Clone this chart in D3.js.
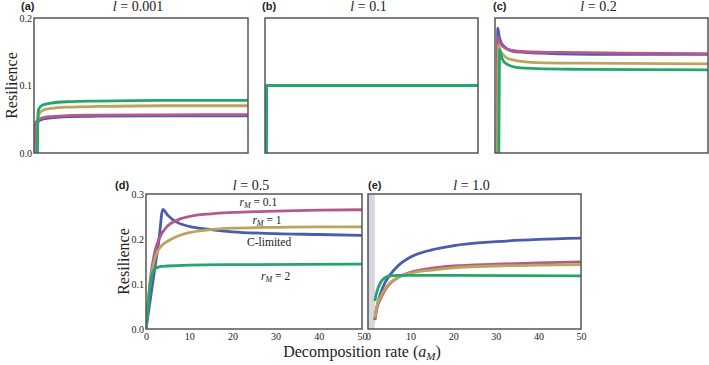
<!DOCTYPE html>
<html>
<head>
<meta charset="utf-8">
<script src="https://cdn.jsdelivr.net/npm/d3@7"></script>
<style>
    body { margin: 0; background: #fff; }
    svg text { font-family: "Liberation Serif", "DejaVu Serif", serif; fill: #222; }
    .letter { font-family: "Liberation Sans", Arial, sans-serif; font-weight: bold; font-size: 11px; }
</style>
</head>
<body>
<div id="chart"></div>
<script>
'use strict';

// Values: [decomposition rate aM, resilience]
var xTicks = [0, 10, 20, 30, 40, 50];
var yTicksTop = [0.0, 0.1, 0.2];
var yTicksBottom = [0.0, 0.1, 0.2, 0.3];

// (a) l = 0.001
var blueA  = [[0, 0], [0.3, 0.04], [0.6, 0.045], [1, 0.047], [2, 0.05], [4, 0.052], [8, 0.054], [15, 0.0545], [30, 0.055], [50, 0.055]];
var pinkA  = [[0.1, 0], [0.3, 0.042], [0.6, 0.047], [1, 0.049], [2, 0.052], [4, 0.054], [8, 0.0555], [15, 0.056], [30, 0.0565], [50, 0.057]];
var oliveA = [[0.7, 0], [0.9, 0.05], [1.2, 0.058], [2, 0.063], [4, 0.066], [8, 0.068], [15, 0.069], [30, 0.07], [50, 0.07]];
var greenA = [[0.8, 0], [0.95, 0.06], [1.2, 0.066], [2, 0.071], [4, 0.074], [8, 0.076], [15, 0.077], [30, 0.078], [50, 0.078]];

// (b) l = 0.1
var blueB  = [[0.05, 0], [0.1, 0.1], [50, 0.1]];
var pinkB  = [[0.05, 0], [0.1, 0.1], [50, 0.1]];
var oliveB = [[0.1, 0], [0.15, 0.1], [50, 0.1]];
var greenB = [[0.35, 0], [0.4, 0.1], [50, 0.1]];

// (c) l = 0.2
var blueC  = [[0.5, 0], [0.65, 0.185], [1, 0.172], [1.5, 0.163], [2.5, 0.156], [4, 0.151], [7, 0.149], [15, 0.147], [30, 0.146], [50, 0.146]];
var pinkC  = [[0.5, 0], [0.65, 0.172], [1, 0.166], [1.5, 0.16], [2.5, 0.155], [4, 0.152], [7, 0.15], [15, 0.149], [30, 0.148], [50, 0.147]];
var oliveC = [[0.6, 0], [0.85, 0.16], [1.2, 0.152], [2, 0.145], [3, 0.14], [5, 0.137], [10, 0.134], [20, 0.133], [50, 0.132]];
var greenC = [[0.9, 0], [1.1, 0.153], [1.4, 0.145], [2, 0.136], [3, 0.131], [5, 0.127], [10, 0.125], [20, 0.124], [50, 0.123]];

// (d) l = 0.5
var blueD  = [[0, 0], [1, 0.066], [2, 0.132], [3, 0.198], [3.9, 0.266], [5, 0.253], [7, 0.238], [10, 0.228], [15, 0.221], [20, 0.216], [30, 0.212], [40, 0.21], [50, 0.208]];
var pinkD  = [[0, 0], [0.5, 0.06], [1, 0.11], [2, 0.17], [3, 0.2], [5, 0.229], [7, 0.241], [10, 0.25], [15, 0.256], [20, 0.259], [30, 0.262], [40, 0.264], [50, 0.265]];
var oliveD = [[0, 0], [0.5, 0.06], [1, 0.105], [2, 0.155], [3, 0.178], [5, 0.195], [7, 0.205], [10, 0.214], [15, 0.221], [20, 0.224], [30, 0.226], [40, 0.227], [50, 0.227]];
var greenD = [[0, 0], [0.5, 0.05], [1, 0.1], [1.5, 0.125], [2, 0.133], [3, 0.138], [5, 0.14], [10, 0.142], [20, 0.143], [50, 0.144]];

// (e) l = 1.0
var blueE  = [[1.6, 0.02], [2, 0.045], [3, 0.08], [4, 0.103], [5, 0.118], [7, 0.14], [10, 0.16], [15, 0.176], [20, 0.185], [30, 0.194], [40, 0.199], [50, 0.202]];
var pinkE  = [[1.6, 0.02], [2, 0.042], [3, 0.068], [4, 0.086], [5, 0.099], [7, 0.114], [10, 0.126], [15, 0.135], [20, 0.14], [30, 0.144], [40, 0.147], [50, 0.149]];
var oliveE = [[1.6, 0.025], [2, 0.048], [3, 0.072], [4, 0.089], [5, 0.101], [7, 0.115], [10, 0.124], [15, 0.131], [20, 0.136], [30, 0.14], [40, 0.142], [50, 0.143]];
var greenE = [[1.6, 0.062], [2, 0.08], [3, 0.104], [4, 0.114], [5, 0.118], [7, 0.119], [10, 0.119], [20, 0.119], [50, 0.118]];
var shadedE = [0, 1.6];

var colors = {
    blue:  '#4a5bb0',
    pink:  '#b6588c',
    olive: '#bba55c',
    green: '#23a66b'
};

// box = [left, top, right, bottom]; letterX / titleY are layout only
var panels = [
    {letter: '(a)', letterX: 21, titleY: 11, l: '0.001', box: [34, 18, 248, 153], yMax: 0.2, yTicks: yTicksTop, xAxis: false, yLabel: true,
        series: {blue: blueA, pink: pinkA, olive: oliveA, green: greenA}},
    {letter: '(b)', letterX: 262, titleY: 11, l: '0.1', box: [265, 18, 478, 153], yMax: 0.2, yTicks: null, xAxis: false, yLabel: false,
        series: {blue: blueB, pink: pinkB, olive: oliveB, green: greenB}},
    {letter: '(c)', letterX: 493, titleY: 11, l: '0.2', box: [495, 18, 708, 153], yMax: 0.2, yTicks: null, xAxis: false, yLabel: false,
        series: {blue: blueC, pink: pinkC, olive: oliveC, green: greenC}},
    {letter: '(d)', letterX: 115, titleY: 190, l: '0.5', box: [146, 194, 362, 329], yMax: 0.3, yTicks: yTicksBottom, xAxis: true, yLabel: true,
        series: {blue: blueD, pink: pinkD, olive: oliveD, green: greenD}},
    {letter: '(e)', letterX: 368, titleY: 190, l: '1.0', box: [368, 194, 581, 329], yMax: 0.3, yTicks: null, xAxis: true, yLabel: false,
        series: {blue: blueE, pink: pinkE, olive: oliveE, green: greenE}, shaded: shadedE}
];

// In-plot annotations of panel (d), placed in data units
var labelsD = [
    {name: 'r', sub: 'M', rest: ' = 0.1', x: 26, y: 0.274},
    {name: 'r', sub: 'M', rest: ' = 1', x: 28, y: 0.234},
    {name: null, sub: null, rest: 'C-limited', x: 28.5, y: 0.184},
    {name: 'r', sub: 'M', rest: ' = 2', x: 30, y: 0.108}
];

var svg = d3.select('#chart').append('svg')
    .attr('width', 709)
    .attr('height', 365);

var drawOrder = ['blue', 'pink', 'olive', 'green'];

panels.forEach(function (p) {
    var x = d3.scaleLinear().domain([0, 50]).range([p.box[0], p.box[2]]),
        y = d3.scaleLinear().domain([0, p.yMax]).range([p.box[3], p.box[1]]),
        midX = (p.box[0] + p.box[2]) / 2,
        g = svg.append('g');

    var clipId = 'clip' + p.letter.replace(/\W/g, '');
    g.append('clipPath').attr('id', clipId)
        .append('rect')
        .attr('x', p.box[0]).attr('y', p.box[1] - 3)
        .attr('width', p.box[2] - p.box[0]).attr('height', p.box[3] - p.box[1] + 3);

    if (p.shaded) {
        g.append('rect')
            .attr('x', x(p.shaded[0]))
            .attr('y', y(p.yMax))
            .attr('width', x(p.shaded[1]) - x(p.shaded[0]))
            .attr('height', y(0) - y(p.yMax))
            .attr('fill', '#d6d7df');
    }

    var line = d3.line()
        .x(function (d) { return x(d[0]); })
        .y(function (d) { return y(d[1]); })
        .curve(d3.curveMonotoneX);

    var lines = g.append('g').attr('clip-path', 'url(#' + clipId + ')');
    drawOrder.forEach(function (key) {
        lines.append('path')
            .datum(p.series[key])
            .attr('d', line)
            .attr('fill', 'none')
            .attr('stroke', colors[key])
            .attr('stroke-width', 2.8)
            .attr('stroke-linejoin', 'round');
    });

    // Frame
    g.append('rect')
        .attr('x', p.box[0]).attr('y', p.box[1])
        .attr('width', p.box[2] - p.box[0]).attr('height', p.box[3] - p.box[1])
        .attr('fill', 'none')
        .attr('stroke', '#555')
        .attr('stroke-width', 1.5);

    if (p.yTicks) {
        var yAxis = g.append('g')
            .attr('transform', 'translate(' + p.box[0] + ',0)')
            .call(d3.axisLeft(y).tickValues(p.yTicks).tickSize(0).tickPadding(2).tickFormat(d3.format('.1f')));
        yAxis.select('.domain').remove();
        yAxis.selectAll('text').style('font-family', '"Liberation Serif", serif').style('font-size', '10px').attr('fill', '#333');
    }

    if (p.xAxis) {
        var xAxis = g.append('g')
            .attr('transform', 'translate(0,' + p.box[3] + ')')
            .call(d3.axisBottom(x).tickValues(xTicks).tickSize(0).tickPadding(4));
        xAxis.select('.domain').remove();
        xAxis.selectAll('text').style('font-family', '"Liberation Serif", serif').style('font-size', '10px').attr('fill', '#333');
    }

    if (p.yLabel) {
        g.append('text')
            .attr('transform', 'translate(' + (p.box[0] - 17) + ',' + ((p.box[1] + p.box[3]) / 2) + ') rotate(-90)')
            .attr('text-anchor', 'middle')
            .style('font-size', '16px')
            .text('Resilience');
    }

    g.append('text')
        .attr('class', 'letter')
        .attr('x', p.letterX)
        .attr('y', p.titleY - 1)
        .text(p.letter);

    var title = g.append('text')
        .attr('x', midX - 3)
        .attr('y', p.titleY)
        .attr('text-anchor', 'middle')
        .style('font-size', '14px');
    title.append('tspan').style('font-style', 'italic').text('l');
    title.append('tspan').text(' = ' + p.l);

    if (p.letter === '(d)') {
        labelsD.forEach(function (lab) {
            var t = g.append('text')
                .attr('x', x(lab.x))
                .attr('y', y(lab.y))
                .attr('text-anchor', 'middle')
                .style('font-size', '11.5px');
            if (lab.name) {
                t.append('tspan').style('font-style', 'italic').text(lab.name);
                t.append('tspan').style('font-style', 'italic').style('font-size', '8px').attr('dy', 2).text(lab.sub);
                t.append('tspan').attr('dy', -2).text(lab.rest);
            } else {
                t.text(lab.rest);
            }
        });
    }
});

// Shared x-axis title
var xTitle = svg.append('text')
    .attr('x', 362)
    .attr('y', 357)
    .attr('text-anchor', 'middle')
    .style('font-size', '16px');
xTitle.append('tspan').text('Decomposition rate (');
xTitle.append('tspan').style('font-style', 'italic').text('a');
xTitle.append('tspan').style('font-style', 'italic').style('font-size', '11px').attr('dy', 3).text('M');
xTitle.append('tspan').attr('dy', -3).text(')');
</script>
</body>
</html>
